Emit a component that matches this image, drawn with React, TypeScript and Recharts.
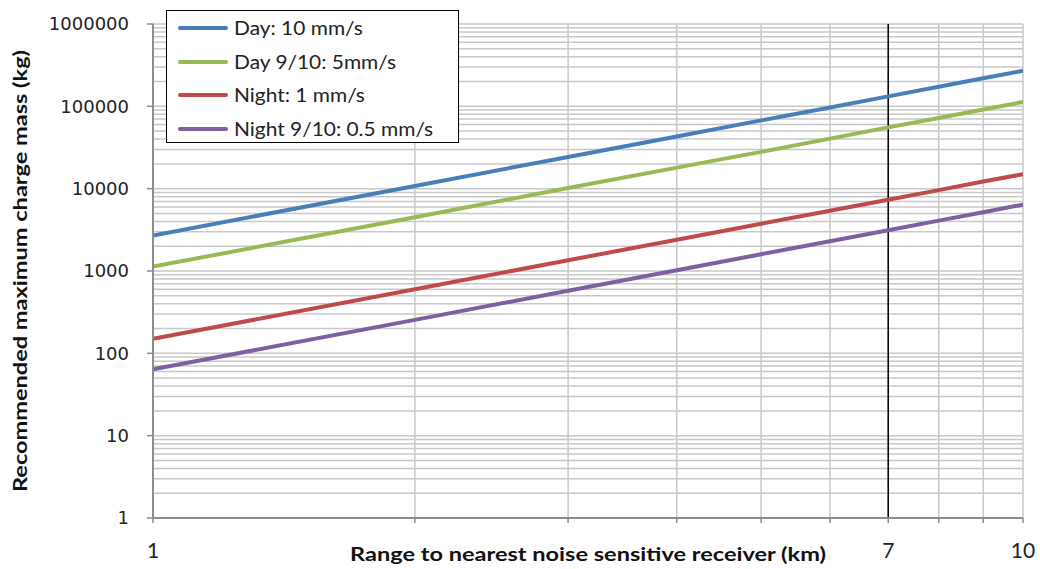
import React from 'react';
import { LineChart, Line, XAxis, YAxis, ReferenceLine, CartesianGrid, Label } from 'recharts';

// Range to nearest noise sensitive receiver (km)
const ranges = [1, 2, 3, 4, 5, 6, 7, 8, 9, 10];
// Recommended maximum charge mass (kg)
const dayFull = [2700, 10800, 24300, 43000, 67500, 97000, 132000, 173000, 219000, 270000];
const dayNineTenths = [1130, 4500, 10200, 18000, 28000, 40500, 55500, 72000, 91500, 113000];
const nightFull = [150, 600, 1350, 2400, 3750, 5400, 7350, 9600, 12200, 15000];
const nightNineTenths = [64, 255, 575, 1020, 1600, 2300, 3130, 4090, 5180, 6400];

const seriesNames = ['Day: 10 mm/s', 'Day 9/10: 5mm/s', 'Night: 1 mm/s', 'Night 9/10: 0.5 mm/s'];
const seriesKeys = ['dayFull', 'dayNineTenths', 'nightFull', 'nightNineTenths'];
const seriesColors = ['#4a7ebb', '#98b954', '#be4b48', '#7d60a0'];

const xTicks = [1, 2, 3, 4, 5, 6, 7, 8, 9, 10];
const xTickLabels = ['1', '', '', '', '', '', '7', '', '', '10'];
const xGrid = [2, 3, 4, 5, 6, 7, 8, 9, 10];
const yTicks = [1, 10, 100, 1000, 10000, 100000, 1000000];
const yDecades = [1, 10, 100, 1000, 10000, 100000];
const yMultipliers = [1, 2, 3, 4, 5, 6, 7, 8, 9];
const markerRange = 7;

const data = ranges.map((r, i) => ({
  range: r,
  dayFull: dayFull[i],
  dayNineTenths: dayNineTenths[i],
  nightFull: nightFull[i],
  nightNineTenths: nightNineTenths[i],
}));

const yGrid: number[] = [];
yDecades.forEach((d) => yMultipliers.forEach((m) => yGrid.push(d * m)));
yGrid.push(1000000);

const axisGray = '#8c8c8c';
const gridGray = '#c8c8c8';
const stretch = 1.24;

export default function App() {
  return (
    <div style={{ position: 'absolute', left: 0, top: 0, width: 1040, height: 569, background: '#fff' }}>
      <LineChart width={1040} height={569} data={data} margin={{ top: 24, right: 17, bottom: 0, left: 0 }}>
        <CartesianGrid stroke={gridGray} strokeWidth={1.5} horizontalValues={yGrid} verticalValues={xGrid} />
        <XAxis
          dataKey="range"
          type="number"
          scale="log"
          domain={[1, 10]}
          allowDataOverflow
          ticks={xTicks}
          interval={0}
          tickFormatter={(v: number) => xTickLabels[xTicks.indexOf(v)] ?? ''}
          height={51}
          axisLine={{ stroke: axisGray, strokeWidth: 2 }}
          tickLine={{ stroke: axisGray, strokeWidth: 1.5 }}
          tickSize={5}
          tickMargin={20}
          tick={{ fontFamily: 'Lato', fontSize: 21, fill: '#222' }}
        >
          <Label
            content={(props: any) => {
              const vb = props.viewBox;
              const cx = vb.x + vb.width / 2;
              const by = vb.y + vb.height - 8;
              return (
                <text
                  x={0}
                  y={0}
                  transform={`translate(${cx}, ${by}) scale(${stretch}, 1)`}
                  textAnchor="middle"
                  fontFamily="Lato"
                  fontWeight="bold"
                  fontSize={19}
                  fill="#111"
                >
                  Range to nearest noise sensitive receiver (km)
                </text>
              );
            }}
          />
        </XAxis>
        <YAxis
          type="number"
          scale="log"
          domain={[1, 1000000]}
          allowDataOverflow
          ticks={yTicks}
          interval={0}
          width={153}
          axisLine={{ stroke: axisGray, strokeWidth: 2 }}
          tickLine={{ stroke: axisGray, strokeWidth: 1.5 }}
          tickSize={6}
          tickMargin={18}
          tick={{ fontFamily: 'DejaVu Sans', fontSize: 18, fill: '#222' }}
        >
          <Label
            content={(props: any) => {
              const vb = props.viewBox;
              const cy = vb.y + vb.height / 2;
              return (
                <text
                  x={0}
                  y={0}
                  transform={`translate(20, ${cy}) rotate(-90) scale(${stretch}, 1)`}
                  textAnchor="middle"
                  dominantBaseline="central"
                  fontFamily="Lato"
                  fontWeight="bold"
                  fontSize={19}
                  fill="#111"
                >
                  Recommended maximum charge mass (kg)
                </text>
              );
            }}
          />
        </YAxis>
        <ReferenceLine x={markerRange} stroke="#000" strokeWidth={1.5} />
        {seriesKeys.map((k, i) => (
          <Line
            key={k}
            type="linear"
            dataKey={k}
            name={seriesNames[i]}
            stroke={seriesColors[i]}
            strokeWidth={4}
            dot={false}
            activeDot={false}
            isAnimationActive={false}
          />
        ))}
      </LineChart>
      <div
        style={{
          position: 'absolute',
          left: 166,
          top: 10,
          width: 293,
          height: 133,
          border: '1.5px solid #000',
          boxSizing: 'border-box',
          background: '#fff',
        }}
      >
        {seriesNames.map((n, i) => (
          <div
            key={n}
            style={{
              position: 'absolute',
              left: 0,
              top: 0.5 + i * 33.5,
              height: 33.5,
              width: '100%',
              display: 'flex',
              alignItems: 'center',
            }}
          >
            <div style={{ marginLeft: 11, width: 50, height: 4, borderRadius: 2, background: seriesColors[i], flex: 'none' }} />
            <span
              style={{
                marginLeft: 6,
                fontFamily: 'Lato',
                fontSize: 18.5,
                color: '#222',
                whiteSpace: 'nowrap',
                display: 'inline-block',
                transform: 'scaleX(1.13)',
                transformOrigin: 'left center',
              }}
            >
              {n}
            </span>
          </div>
        ))}
      </div>
    </div>
  );
}
